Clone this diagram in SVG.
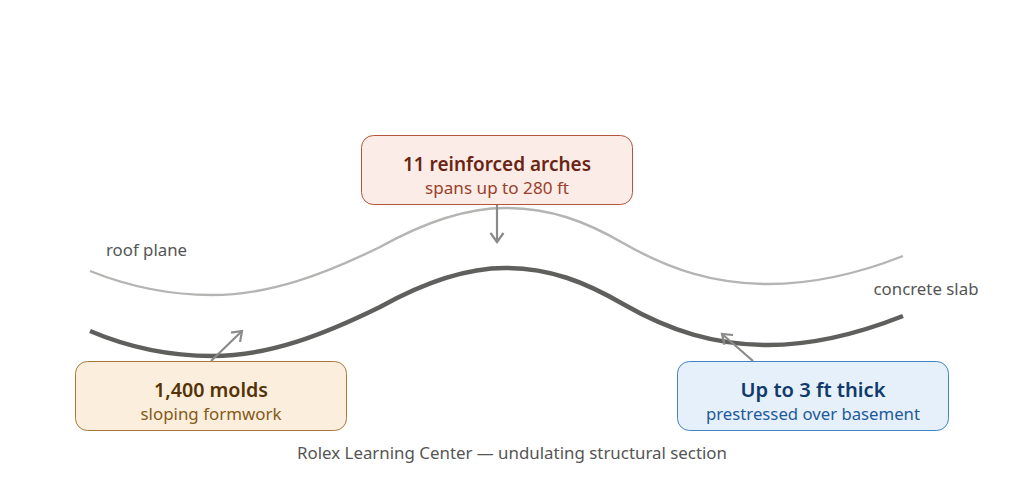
<svg xmlns="http://www.w3.org/2000/svg" width="1024" height="482" viewBox="0 0 1024 482">
<style>
text{font-family:"Noto Sans","Open Sans","Liberation Sans",sans-serif;text-anchor:middle}
.t{font-size:20.500px;font-weight:600}
.s{font-size:17px}
.l{font-size:17px;fill:#555}
.c{fill:none}
.a{fill:none;stroke:#8a8a88;stroke-width:2.200}
</style>
<defs>
<marker id="ah" markerUnits="userSpaceOnUse" markerWidth="16" markerHeight="16" refX="12" refY="8" orient="auto"><path d="M3 1.500L12 8L3 14.500" fill="none" stroke="#8a8a88" stroke-width="2.200"/></marker>
</defs>
<rect width="1024" height="482" fill="#fff"/>
<g id="connectors">
<path id="roof-plane" class="c" stroke="#b4b4b2" stroke-width="2.400" d="M90 271C130 287 170 295 212 295C270 295 325 274 380 247C425 222 465 208 505 208C550 208 585 221 623 243C670 270 715 284 768 284C815 284 860 273 903 256"/>
<path id="concrete-slab" class="c" stroke="#5f5f5d" stroke-width="4.500" d="M90 331C130 348 170 356 212 356C270 356 325 334 380 307C425 282 465 268 505 268C550 268 585 282 623 304C670 331 715 345 768 345C815 345 860 333 903 316"/>
<path class="a" marker-end="url(#ah)" d="M497 205V242"/>
<path class="a" marker-end="url(#ah)" d="M211 361L242 331"/>
<path class="a" marker-end="url(#ah)" d="M753 361L722 334"/>
</g>
<g id="node-arches">
<rect x="361.500" y="135.500" width="271" height="69" rx="12" fill="#fbece8" stroke="#b5543a"/>
<text class="t" x="497" y="171" fill="#6b2413" textLength="188" lengthAdjust="spacingAndGlyphs">11 reinforced arches</text>
<text class="s" x="497" y="194" fill="#98402a" textLength="144" lengthAdjust="spacingAndGlyphs">spans up to 280 ft</text>
</g>
<g id="node-molds">
<rect x="75.500" y="361.500" width="271" height="69" rx="12" fill="#fbeedd" stroke="#a87a35"/>
<text class="t" x="211" y="397" fill="#543308" textLength="114" lengthAdjust="spacingAndGlyphs">1,400 molds</text>
<text class="s" x="211" y="420" fill="#855a17" textLength="141" lengthAdjust="spacingAndGlyphs">sloping formwork</text>
</g>
<g id="node-thick">
<rect x="677.500" y="361.500" width="271" height="69" rx="12" fill="#e6f0fa" stroke="#3e85c4"/>
<text class="t" x="813" y="397" fill="#0f3a6b" textLength="145" lengthAdjust="spacingAndGlyphs">Up to 3 ft thick</text>
<text class="s" x="813" y="420" fill="#1d5a9b" textLength="214" lengthAdjust="spacingAndGlyphs">prestressed over basement</text>
</g>
<text class="l" x="146.500" y="256" textLength="81" lengthAdjust="spacingAndGlyphs">roof plane</text>
<text class="l" x="926" y="295" textLength="105" lengthAdjust="spacingAndGlyphs">concrete slab</text>
<text class="l" x="512" y="459" textLength="430" lengthAdjust="spacingAndGlyphs">Rolex Learning Center — undulating structural section</text>
</svg>
